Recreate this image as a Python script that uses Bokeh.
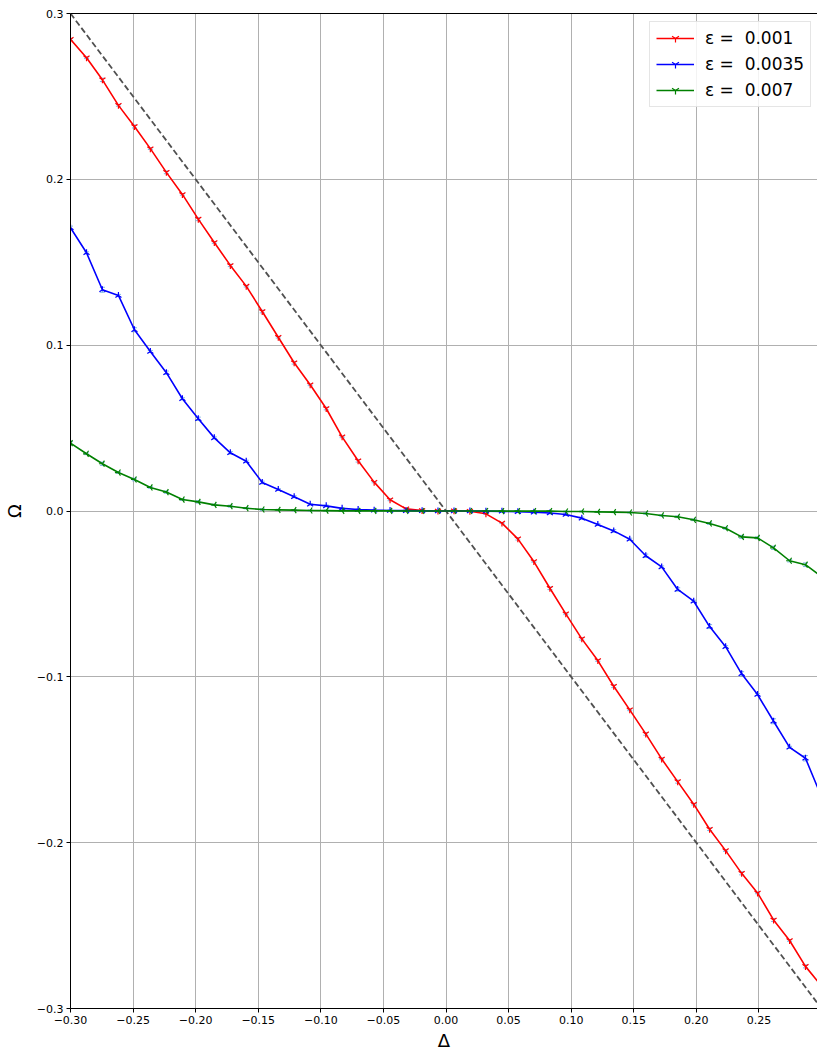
from bokeh.plotting import figure
from bokeh.models import (Range1d, FixedTicker, CustomJSTickFormatter, LinearAxis,
                          Legend, LegendItem, Whisker, ColumnDataSource, TeeHead)
from bokeh.embed import file_html
from bokeh.resources import INLINE
import math

# ---------------- data ----------------
delta = [-0.3000, -0.2872, -0.2745, -0.2617, -0.2489, -0.2362, -0.2234, -0.2106,
         -0.1979, -0.1851, -0.1723, -0.1596, -0.1468, -0.1340, -0.1213, -0.1085,
         -0.0957, -0.0830, -0.0702, -0.0574, -0.0447, -0.0319, -0.0191, -0.0064,
         0.0064, 0.0191, 0.0319, 0.0447, 0.0574, 0.0702, 0.0830, 0.0957,
         0.1085, 0.1213, 0.1340, 0.1468, 0.1596, 0.1723, 0.1851, 0.1979,
         0.2106, 0.2234, 0.2362, 0.2489, 0.2617, 0.2745, 0.2872, 0.3000]

omega_001 = [0.2844, 0.2733, 0.2600, 0.2446, 0.2319, 0.2185, 0.2042, 0.1909,
             0.1760, 0.1619, 0.1481, 0.1356, 0.1203, 0.1048, 0.0894, 0.0761,
             0.0618, 0.0447, 0.0303, 0.0174, 0.0068, 0.0013, 0.0003, 0.0000,
             0.0001, -0.0001, -0.0017, -0.0073, -0.0168, -0.0305, -0.0466, -0.0620,
             -0.0771, -0.0902, -0.1057, -0.1199, -0.1344, -0.1495, -0.1632, -0.1768,
             -0.1919, -0.2048, -0.2185, -0.2303, -0.2466, -0.2590, -0.2746, -0.2865]

omega_0035 = [0.1708, 0.1557, 0.1334, 0.1300, 0.1093, 0.0962, 0.0834, 0.0677,
              0.0556, 0.0441, 0.0351, 0.0300, 0.0172, 0.0130, 0.0086, 0.0041,
              0.0031, 0.0016, 0.0009, 0.0005, 0.0003, 0.0002, 0.0001, 0.0000,
              0.0000, 0.0000, -0.0001, -0.0002, -0.0004, -0.0007, -0.0012, -0.0021,
              -0.0043, -0.0081, -0.0120, -0.0170, -0.0270, -0.0337, -0.0473, -0.0544,
              -0.0697, -0.0818, -0.0982, -0.1107, -0.1268, -0.1425, -0.1491, -0.1724]

omega_007 = [0.0409, 0.0345, 0.0285, 0.0232, 0.0190, 0.0142, 0.0114, 0.0069,
             0.0055, 0.0037, 0.0029, 0.0017, 0.0009, 0.0007, 0.0005, 0.0003,
             0.0002, 0.0001, 0.0001, 0.0001, 0.0001, 0.0000, 0.0000, 0.0000,
             0.0000, 0.0000, 0.0000, -0.0001, -0.0001, -0.0001, -0.0001, -0.0003,
             -0.0003, -0.0005, -0.0007, -0.0009, -0.0015, -0.0027, -0.0035, -0.0053,
             -0.0075, -0.0104, -0.0156, -0.0162, -0.0222, -0.0300, -0.0324, -0.0395]

err_001 = [0.0006, 0.0005, 0.0010, 0.0005, 0.0009, 0.0005, 0.0008, 0.0005,
           0.0009, 0.0005, 0.0007, 0.0005, 0.0008, 0.0005, 0.0008, 0.0005,
           0.0008, 0.0005, 0.0008, 0.0004, 0.0006, 0.0003, 0.0004, 0.0003,
           0.0004, 0.0003, 0.0004, 0.0003, 0.0007, 0.0004, 0.0008, 0.0005,
           0.0007, 0.0005, 0.0008, 0.0005, 0.0008, 0.0005, 0.0009, 0.0005,
           0.0008, 0.0005, 0.0009, 0.0005, 0.0009, 0.0005, 0.0009, 0.0005]

err_0035 = [0.0010, 0.0006, 0.0015, 0.0006, 0.0012, 0.0006, 0.0010, 0.0006,
            0.0010, 0.0006, 0.0008, 0.0006, 0.0008, 0.0005, 0.0006, 0.0004,
            0.0005, 0.0004, 0.0004, 0.0003, 0.0003, 0.0003, 0.0003, 0.0003,
            0.0003, 0.0003, 0.0003, 0.0003, 0.0004, 0.0004, 0.0005, 0.0005,
            0.0006, 0.0006, 0.0008, 0.0006, 0.0010, 0.0006, 0.0010, 0.0006,
            0.0012, 0.0006, 0.0013, 0.0006, 0.0015, 0.0006, 0.0016, 0.0008]

err_007 = [0.0009, 0.0005, 0.0010, 0.0005, 0.0008, 0.0005, 0.0007, 0.0004,
           0.0007, 0.0004, 0.0006, 0.0004, 0.0005, 0.0003, 0.0004, 0.0003,
           0.0003, 0.0003, 0.0003, 0.0003, 0.0003, 0.0003, 0.0003, 0.0003,
           0.0003, 0.0003, 0.0003, 0.0003, 0.0003, 0.0003, 0.0003, 0.0003,
           0.0003, 0.0003, 0.0003, 0.0003, 0.0004, 0.0004, 0.0005, 0.0005,
           0.0006, 0.0006, 0.0009, 0.0006, 0.0010, 0.0007, 0.0011, 0.0008]

labels = ["ε =  0.001", "ε =  0.0035", "ε =  0.007"]
colors = ["red", "blue", "green"]

diag_x = [-0.3, 0.3]
x_ticks = [-0.30, -0.25, -0.20, -0.15, -0.10, -0.05, 0.00, 0.05, 0.10, 0.15, 0.20, 0.25]
y_ticks = [-0.3, -0.2, -0.1, 0.0, 0.1, 0.2, 0.3]

# ---------------- figure ----------------
FONT = "DejaVu Sans"
p = figure(width=817, height=1054, output_backend="svg", toolbar_location=None,
           x_range=Range1d(-0.3, 0.2968), y_range=Range1d(-0.3, 0.3),
           min_border_left=70, min_border_right=0, min_border_top=13,
           min_border_bottom=46)
p.outline_line_color = None
p.background_fill_color = "white"
p.border_fill_color = "white"

xax = p.below[0]
yax = p.left[0]

xax.ticker = FixedTicker(ticks=x_ticks)
yax.ticker = FixedTicker(ticks=y_ticks)
xax.formatter = CustomJSTickFormatter(
    code="return (tick < -1e-9 ? '\u2212' : '') + Math.abs(tick).toFixed(2);")
yax.formatter = CustomJSTickFormatter(
    code="return (tick < -1e-9 ? '\u2212' : '') + Math.abs(tick).toFixed(1);")

for ax in (xax, yax):
    ax.minor_tick_line_color = None
    ax.major_tick_in = 0
    ax.major_tick_out = 4
    ax.major_tick_line_color = "black"
    ax.axis_line_color = "black"
    ax.major_label_text_font = FONT
    ax.major_label_text_font_size = "11px"
    ax.major_label_text_color = "black"
    ax.axis_label_text_font = FONT
    ax.axis_label_text_font_size = "18px"
    ax.axis_label_text_font_style = "normal"
    ax.axis_label_text_color = "black"

xax.axis_label = "Δ"
yax.axis_label = "Ω"
xax.major_label_standoff = 3
xax.axis_label_standoff = 3
yax.major_label_standoff = 3
yax.axis_label_standoff = 9

# top spine
top_axis = LinearAxis(ticker=FixedTicker(ticks=[]), axis_line_color="black",
                      axis_line_width=1, major_tick_line_color=None,
                      minor_tick_line_color=None, major_label_text_font_size="0px",
                      major_tick_out=0, major_tick_in=0, major_label_standoff=0)
p.add_layout(top_axis, "above")

p.xgrid.ticker = FixedTicker(ticks=x_ticks)
p.ygrid.ticker = FixedTicker(ticks=y_ticks)
p.grid.grid_line_color = "#b0b0b0"
p.grid.grid_line_width = 1

# diagonal reference line
p.line(diag_x, [-v for v in diag_x], line_color="#505050", line_width=1.8,
       line_dash="6 3")

series = [omega_001, omega_0035, omega_007]
errs = [err_001, err_0035, err_007]
angles = [0.0, math.pi, -math.pi / 2]
items = []
for ys, es, col, ang, lab in zip(series, errs, colors, angles, labels):
    src = ColumnDataSource(dict(x=delta, y=ys,
                                lo=[y - e for y, e in zip(ys, es)],
                                up=[y + e for y, e in zip(ys, es)]))
    lr = p.line("x", "y", source=src, line_color=col, line_width=1.6)
    sr = p.scatter("x", "y", source=src, marker="y", size=7, angle=ang,
                   line_color=col, line_width=1.2)
    wk = Whisker(source=src, base="x", upper="up", lower="lo", dimension="height",
                 line_color="#5fa2dd", line_width=1.2, line_alpha=0.8,
                 upper_head=TeeHead(size=5, line_color="#5fa2dd", line_alpha=0.8),
                 lower_head=TeeHead(size=5, line_color="#5fa2dd", line_alpha=0.8))
    p.add_layout(wk)
    items.append(LegendItem(label=lab, renderers=[lr, sr]))

legend = Legend(items=items, location=(579, 901), orientation="vertical",
                label_text_font=FONT, label_text_font_size="17px",
                label_text_color="black",
                glyph_width=38, glyph_height=20, label_height=20,
                label_standoff=11, spacing=6, padding=6, margin=0,
                border_line_color="#cccccc", border_line_width=1,
                background_fill_color="white", background_fill_alpha=0.85)
p.add_layout(legend, "center")

open("out.html", "w").write(file_html(p, INLINE))
